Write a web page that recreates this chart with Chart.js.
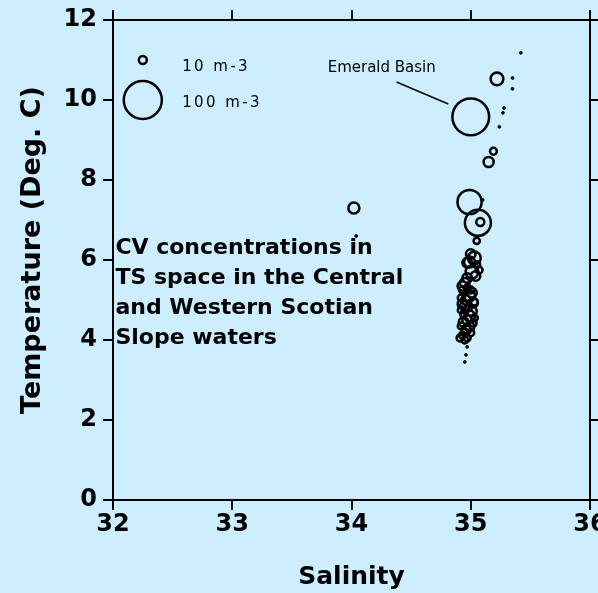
<!DOCTYPE html>
<html>
<head>
<meta charset="utf-8">
<script src="https://cdn.jsdelivr.net/npm/chart.js@4/dist/chart.umd.min.js"></script>
<style>
  html, body { margin: 0; padding: 0; background: #cceeff; }
  #wrap { width: 598px; height: 593px; }
</style>
</head>
<body>
<div id="wrap"><canvas id="c" width="598" height="593"></canvas></div>
<script>
// Salinity / temperature of each station sample and its CV concentration (m-3)
const salinity = [
  35.42, 35.22, 35.35, 35.35, 35.00, 35.28, 35.27, 35.24, 35.19, 35.15,
  34.02, 34.04,
  34.99, 35.06, 35.08, 35.10, 35.05, 35.03, 35.01, 35.05, 34.97, 35.07,
  34.95, 34.93, 34.99, 34.95, 35.02, 34.99, 34.94, 34.99, 34.95, 34.97,
  34.91, 34.92, 35.03, 35.00, 34.97, 34.96, 34.95,
  34.93, 34.97, 35.01, 34.92, 34.96, 35.03, 34.93, 34.98, 35.01, 34.94,
  34.97, 35.02, 34.92, 34.96, 35.00, 34.93, 34.95, 35.00, 34.97, 35.04, 34.99
];
const temperature = [
  11.18, 10.53, 10.55, 10.28, 9.58, 9.80, 9.68, 9.33, 8.72, 8.45,
  7.30, 6.60,
  7.45, 6.93, 6.95, 7.50, 6.48, 6.05, 5.70, 5.88, 5.93, 5.75,
  5.43, 5.25, 5.10, 4.85, 4.93, 4.60, 4.45, 4.33, 4.20, 4.05,
  4.05, 4.75, 4.55, 5.25, 3.83, 3.63, 3.45,
  5.35, 5.30, 5.18, 5.05, 5.00, 4.95, 4.90, 4.80, 4.72, 4.65,
  4.50, 4.42, 4.35, 4.25, 4.18, 4.12, 4.00, 6.15, 5.55, 5.60, 5.95
];
const concentration = [
  1, 20, 2, 2, 95, 2, 1, 1, 8, 14,
  16, 1,
  51, 57, 10, 2, 7, 20, 20, 8, 13, 8,
  13, 8, 16, 13, 13, 16, 13, 13, 8, 8,
  8, 8, 8, 8, 1, 1, 1,
  13, 8, 13, 8, 13, 8, 13, 8, 13, 8,
  13, 8, 8, 13, 8, 8, 8, 13, 13, 13, 16
];

// Size key drawn in the upper-left corner
const keySalinity = [32.25, 32.25];
const keyTemperature = [11.0, 10.0];
const keyConcentration = [10, 100];
const keyLabels = ['10 m-3', '100 m-3'];

const xTicks = [32, 33, 34, 35, 36];
const yTicks = [0, 2, 4, 6, 8, 10, 12];

const noteLines = [
  'CV concentrations in',
  'TS space in the Central',
  'and Western Scotian',
  'Slope waters'
];

const BG = '#cceeff';
const FONT = '"DejaVu Sans", sans-serif';

// bubble radius (px) from concentration; very low counts become dots
function radiusFor(c) {
  return c <= 3 ? 1.4 : 0.842 * Math.pow(c, 0.677);
}
const fillFor = c => (c <= 3 ? '#000' : 'rgba(0,0,0,0)');

const samplePoints = salinity.map((s, i) => ({ x: s, y: temperature[i], r: radiusFor(concentration[i]), c: concentration[i] }));
const keyPoints = keySalinity.map((s, i) => ({ x: s, y: keyTemperature[i], r: radiusFor(keyConcentration[i]), c: keyConcentration[i] }));

const setTicks = list => scale => { scale.ticks = list.map(v => ({ value: v })); };

const axisGrid = { display: true, drawOnChartArea: false, drawTicks: true, tickLength: 10, color: '#000', lineWidth: 2 };
const axisBorder = { display: true, color: '#000', width: 2 };

const background = {
  id: 'background',
  beforeDraw(chart) {
    const { ctx, width, height } = chart;
    ctx.save();
    ctx.fillStyle = BG;
    ctx.fillRect(0, 0, width, height);
    ctx.restore();
  }
};

const notes = {
  id: 'notes',
  afterDatasetsDraw(chart) {
    const { ctx, scales: { x, y } } = chart;
    ctx.save();
    ctx.fillStyle = '#000';
    ctx.strokeStyle = '#000';

    // vertical axis title
    ctx.save();
    ctx.translate(33, 250);
    ctx.rotate(-Math.PI / 2);
    ctx.font = 'bold 27px ' + FONT;
    ctx.textAlign = 'center';
    ctx.textBaseline = 'middle';
    ctx.fillText('Temperature (Deg. C)', 0, 0);
    ctx.restore();

    // description block
    ctx.font = 'bold 22px ' + FONT;
    ctx.textAlign = 'left';
    ctx.textBaseline = 'alphabetic';
    noteLines.forEach((t, i) => {
      ctx.fillText(t, x.getPixelForValue(32.02), y.getPixelForValue(6.16 - 0.75 * i));
    });

    // size key labels
    ctx.font = '15px ' + FONT;
    ctx.textBaseline = 'middle';
    ctx.letterSpacing = '2.4px';
    const keyLabelTemp = [10.83, 9.91];
    keyLabels.forEach((t, i) => {
      ctx.fillText(t, x.getPixelForValue(32.58), y.getPixelForValue(keyLabelTemp[i]));
    });

    // Emerald Basin label with leader line
    ctx.letterSpacing = '0px';
    ctx.fillText('Emerald Basin', x.getPixelForValue(33.80), y.getPixelForValue(10.8));
    ctx.lineWidth = 1.5;
    ctx.beginPath();
    ctx.moveTo(x.getPixelForValue(34.377), y.getPixelForValue(10.45));
    ctx.lineTo(x.getPixelForValue(34.812), y.getPixelForValue(9.9));
    ctx.stroke();
    ctx.restore();
  }
};

new Chart(document.getElementById('c'), {
  type: 'bubble',
  data: {
    datasets: [
      {
        data: samplePoints,
        borderColor: '#000',
        borderWidth: ctx => (ctx.raw && ctx.raw.c <= 3 ? 1 : 2.5),
        backgroundColor: ctx => fillFor(ctx.raw ? ctx.raw.c : 10)
      },
      {
        data: keyPoints,
        borderColor: '#000',
        borderWidth: 2.5,
        backgroundColor: 'rgba(0,0,0,0)'
      }
    ]
  },
  options: {
    responsive: false,
    devicePixelRatio: 1,
    animation: false,
    events: [],
    layout: { autoPadding: false, padding: { top: 10, right: 0, bottom: 0, left: 0 } },
    plugins: { legend: { display: false }, tooltip: { enabled: false } },
    scales: {
      x: {
        type: 'linear', position: 'bottom', min: 32, max: 36,
        afterBuildTicks: setTicks(xTicks),
        ticks: { color: '#000', font: { family: FONT, weight: 'bold', size: 24 }, padding: 0 },
        grid: axisGrid, border: axisBorder,
        title: { display: true, text: 'Salinity', color: '#000', font: { family: FONT, weight: 'bold', size: 25 }, padding: { top: 0, bottom: 1 } },
        afterFit(s) { s.height = 93; s.paddingLeft = 0; s.paddingRight = 0; }
      },
      x2: {
        type: 'linear', position: 'top', min: 32, max: 36,
        afterBuildTicks: setTicks(xTicks),
        ticks: { display: false },
        grid: axisGrid, border: axisBorder,
        afterFit(s) { s.height = 10; s.paddingLeft = 0; s.paddingRight = 0; }
      },
      y: {
        type: 'linear', position: 'left', min: 0, max: 12,
        afterBuildTicks: setTicks(yTicks),
        ticks: { color: '#000', font: { family: FONT, weight: 'bold', size: 24 }, padding: 6 },
        grid: axisGrid, border: axisBorder,
        afterFit(s) { s.width = 113; s.paddingTop = 0; s.paddingBottom = 0; }
      },
      y2: {
        type: 'linear', position: 'right', min: 0, max: 12,
        afterBuildTicks: setTicks(yTicks),
        ticks: { display: false },
        grid: axisGrid, border: axisBorder,
        afterFit(s) { s.width = 8; s.paddingTop = 0; s.paddingBottom = 0; }
      }
    }
  },
  plugins: [background, notes]
});
</script>
</body>
</html>
